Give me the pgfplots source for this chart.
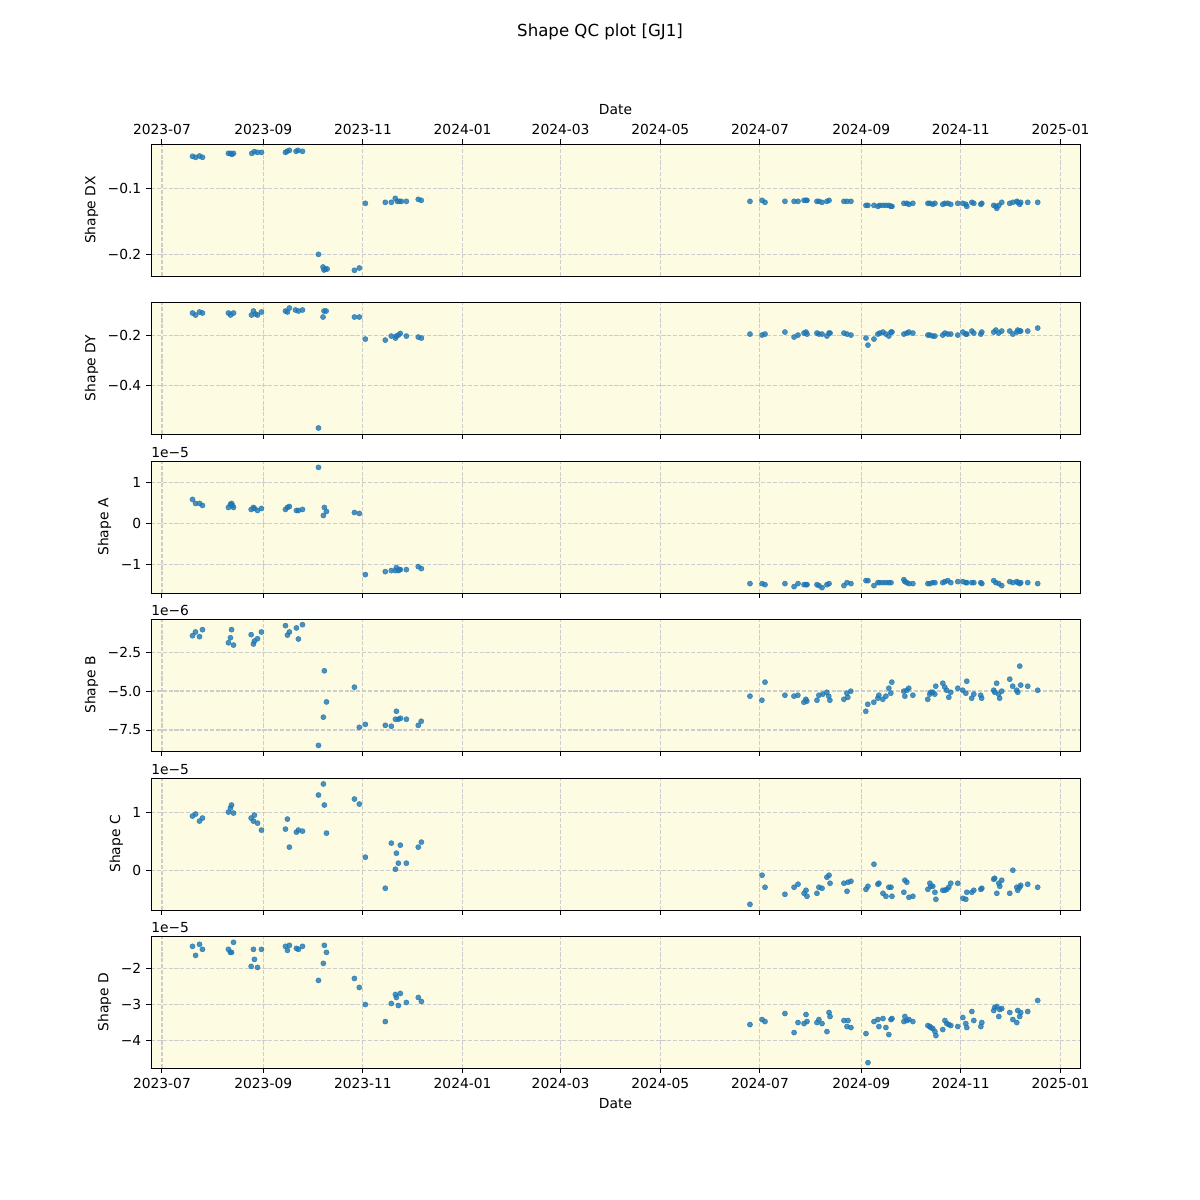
\documentclass[border=0pt]{standalone}
\usepackage{fontspec}
\setmainfont{DejaVu Sans}
\usepackage{pgfplots}
\pgfplotsset{compat=1.18}
\definecolor{mplblue}{HTML}{1F77B4}
\definecolor{bgy}{RGB}{253,251,226}
\definecolor{gridc}{RGB}{205,205,205}
\pgfplotsset{
  qc/.style={
    scale only axis, width=9.29in, height=1.32in,
    anchor=north west,
    xmin=-6.7, xmax=561.9,
    xtick={0,62,123,184,244,305,366,428,489,550},
    xticklabels={},
    axis background/.style={fill=bgy},
    grid=major,
    grid style={gridc, line width=0.8pt, dash pattern=on 2.96pt off 1.28pt},
    axis line style={line width=0.65pt},
    tick style={line width=0.65pt, black},
    major tick length=3.5pt,
    tick align=outside,
    xtick pos=left, ytick pos=left,
    clip mode=individual,
    every tick label/.append style={font=\fontsize{10}{12}\selectfont},
    label style={font=\fontsize{10}{12}\selectfont},
    xticklabel style={yshift=-0.5pt},
  },
  datelabels/.style={
    xticklabels={2023-07,2023-09,2023-11,2024-01,2024-03,2024-05,2024-07,2024-09,2024-11,2025-01},
  },
  pts/.style={only marks, mark=*, mark size=1.85pt,
    mark options={fill=mplblue, draw=mplblue, fill opacity=0.8, draw opacity=0.8}},
}
\newcommand{\offtext}[1]{\node[anchor=south west, inner sep=0pt, yshift=2.5pt, font=\fontsize{10}{12}\selectfont] at (rel axis cs:0,1) {#1};}
\begin{document}
\begin{tikzpicture}
\useasboundingbox[fill=white] (0,0) rectangle (12in,12in);
\node[font=\fontsize{12}{14}\selectfont] at (6in,11.68in) {Shape QC plot [GJ1]};

% Shape DX
\begin{axis}[qc, at={(1.51in,10.56in)}, datelabels, xtick pos=right, xticklabel pos=right, xlabel={Date},
  ymin=-0.2328, ymax=-0.0328, ytick={-0.2,-0.1}, yticklabels={−0.2,−0.1}, ylabel={Shape DX}]
\addplot[pts] coordinates {
(18.7,-0.0515)(20.6,-0.0530)(23.0,-0.0510)(24.8,-0.0530)
(40.7,-0.0470)(42.0,-0.0470)(42.8,-0.0485)(43.8,-0.0470)
(55.0,-0.0470)(56.6,-0.0444)(58.5,-0.0455)(60.9,-0.0455)
(75.6,-0.0455)(76.6,-0.0439)(78.0,-0.0424)(82.1,-0.0439)(83.3,-0.0424)(86.0,-0.0439)
(95.8,-0.2000)(98.6,-0.2192)(99.2,-0.2237)(99.9,-0.2222)(101.1,-0.2222)
(117.8,-0.2242)(120.8,-0.2207)(124.5,-0.1227)
(136.7,-0.1212)(140.4,-0.1212)(142.8,-0.1152)(144.1,-0.1197)(145.3,-0.1197)(146.5,-0.1197)(149.6,-0.1197)
(156.9,-0.1167)(158.7,-0.1182)
(359.9,-0.1197)(367.3,-0.1182)(369.1,-0.1212)(381.3,-0.1197)(386.9,-0.1197)(389.3,-0.1197)
(393.0,-0.1182)(394.2,-0.1182)(394.8,-0.1182)(400.9,-0.1197)(402.1,-0.1197)(404.0,-0.1212)
(407.0,-0.1197)(408.3,-0.1182)(417.4,-0.1197)(419.3,-0.1197)(421.7,-0.1197)
(430.9,-0.1258)(432.1,-0.1258)(435.8,-0.1258)(438.2,-0.1273)(439.4,-0.1258)(441.3,-0.1258)
(443.1,-0.1258)(444.9,-0.1258)(446.2,-0.1273)(446.8,-0.1273)
(454.1,-0.1227)(455.9,-0.1227)(457.2,-0.1242)(459.6,-0.1227)
(468.8,-0.1227)(470.0,-0.1227)(471.8,-0.1242)(473.1,-0.1227)(477.9,-0.1242)(479.2,-0.1227)
(481.0,-0.1227)(482.8,-0.1242)(487.1,-0.1227)(490.2,-0.1227)(492.0,-0.1242)(492.6,-0.1273)
(495.7,-0.1212)(496.9,-0.1227)(501.2,-0.1242)(501.8,-0.1227)
(509.1,-0.1258)(510.4,-0.1273)(511.0,-0.1303)(512.2,-0.1258)(514.0,-0.1212)
(518.9,-0.1227)(520.8,-0.1212)(523.2,-0.1197)(523.8,-0.1212)(525.0,-0.1242)(525.6,-0.1212)
(529.9,-0.1212)(536.0,-0.1212)
};
\end{axis}

% Shape DY
\begin{axis}[qc, at={(1.51in,8.98in)},
  ymin=-0.592, ymax=-0.0653, ytick={-0.4,-0.2}, yticklabels={−0.4,−0.2}, ylabel={Shape DY}]
\addplot[pts] coordinates {
(18.7,-0.1093)(20.6,-0.1173)(23.0,-0.1053)(24.8,-0.1093)
(40.7,-0.1093)(42.0,-0.1173)(43.8,-0.1093)
(54.8,-0.1173)(56.0,-0.1013)(57.3,-0.1133)(58.5,-0.1173)(60.9,-0.1053)
(75.6,-0.1013)(76.8,-0.1053)(78.0,-0.0893)(81.7,-0.0973)(83.5,-0.1013)(86.0,-0.0973)
(95.8,-0.568)(98.6,-0.1253)(99.2,-0.1013)(100.5,-0.1013)
(117.8,-0.1253)(120.8,-0.1253)(124.5,-0.2133)
(136.7,-0.2173)(140.4,-0.2013)(142.9,-0.2093)(143.5,-0.2013)(144.7,-0.1973)(145.9,-0.1907)(149.6,-0.2013)
(156.9,-0.2053)(158.8,-0.2093)
(359.9,-0.1933)(367.3,-0.1973)(369.1,-0.1933)(381.3,-0.1853)(386.9,-0.2053)(389.3,-0.1973)
(393.0,-0.1893)(394.2,-0.1853)(394.8,-0.1933)(400.9,-0.1893)(402.1,-0.1933)(404.0,-0.1933)
(407.0,-0.2013)(408.3,-0.1893)(408.9,-0.1893)(417.4,-0.1893)(419.3,-0.1933)(421.7,-0.1973)
(430.9,-0.2093)(432.1,-0.2373)(435.8,-0.2133)(438.2,-0.1933)(439.4,-0.1893)(441.3,-0.1853)
(443.1,-0.1933)(444.9,-0.2013)(446.2,-0.1853)(446.8,-0.1853)
(454.1,-0.1933)(455.9,-0.1893)(457.2,-0.1853)(459.6,-0.1893)
(468.8,-0.1973)(470.0,-0.1973)(471.8,-0.2013)(473.1,-0.2013)(477.9,-0.1973)(479.2,-0.1893)
(481.0,-0.1933)(482.8,-0.1933)(487.1,-0.1973)(490.2,-0.1853)(492.0,-0.1933)(492.6,-0.1933)
(495.7,-0.1813)(496.9,-0.1893)(501.2,-0.1933)(501.8,-0.1853)
(509.1,-0.1853)(510.4,-0.1773)(512.2,-0.1893)(514.0,-0.1813)
(518.9,-0.1813)(520.8,-0.1933)(523.2,-0.1853)(523.8,-0.1773)(525.0,-0.1813)(525.6,-0.1813)
(529.9,-0.1813)(536.0,-0.1693)
};
\end{axis}

% Shape A
\begin{axis}[qc, at={(1.51in,7.39in)},
  ymin=-1.698, ymax=1.527, ytick={-1,0,1}, yticklabels={−1,0,1}, ylabel={Shape A}]
\addplot[pts] coordinates {
(18.7,0.588)(20.6,0.490)(23.0,0.490)(24.8,0.441)
(40.7,0.392)(41.9,0.465)(42.6,0.490)(43.2,0.441)(43.8,0.392)
(54.6,0.343)(56.0,0.392)(56.6,0.367)(58.5,0.318)(60.9,0.367)
(75.6,0.343)(76.8,0.392)(78.0,0.416)(82.3,0.318)(83.5,0.318)(86.0,0.343)
(95.8,1.371)(98.8,0.196)(99.4,0.392)(100.7,0.294)
(117.8,0.269)(120.8,0.245)(124.5,-1.249)
(136.7,-1.176)(140.4,-1.151)(142.9,-1.151)(143.5,-1.078)(144.7,-1.151)(145.3,-1.127)(145.9,-1.127)(149.6,-1.127)
(156.9,-1.053)(158.8,-1.102)
(359.9,-1.469)(367.3,-1.469)(369.1,-1.494)(381.3,-1.469)(386.9,-1.543)(389.3,-1.469)
(393.0,-1.494)(394.2,-1.494)(394.8,-1.494)(400.9,-1.494)(402.1,-1.518)(404.0,-1.567)
(407.0,-1.494)(408.3,-1.469)(417.4,-1.518)(419.3,-1.445)(421.7,-1.469)
(430.9,-1.396)(432.1,-1.396)(435.8,-1.518)(438.2,-1.445)(439.4,-1.445)(441.3,-1.445)
(443.1,-1.445)(444.9,-1.445)(446.2,-1.445)
(454.1,-1.371)(454.7,-1.420)(455.9,-1.445)(457.2,-1.469)(459.6,-1.469)
(468.8,-1.469)(470.0,-1.469)(471.8,-1.445)(473.1,-1.445)(477.9,-1.445)(479.2,-1.420)
(481.0,-1.396)(482.8,-1.445)(487.1,-1.420)(490.2,-1.420)(492.0,-1.445)(492.6,-1.445)
(495.7,-1.445)(496.9,-1.445)(501.2,-1.445)(501.8,-1.469)
(509.1,-1.396)(510.4,-1.445)(512.2,-1.469)(514.0,-1.518)
(518.9,-1.420)(520.8,-1.445)(523.2,-1.420)(523.8,-1.445)(525.0,-1.469)(525.6,-1.445)
(529.9,-1.445)(536.0,-1.469)
};
\offtext{1e−5}
\end{axis}

% Shape B
\begin{axis}[qc, at={(1.51in,5.81in)},
  ymin=-8.85, ymax=-0.375, ytick={-7.5,-5,-2.5}, yticklabels={−7.5,−5.0,−2.5}, ylabel={Shape B}]
\addplot[pts] coordinates {
(18.7,-1.45)(20.5,-1.21)(23.0,-1.51)(24.8,-1.06)
(40.7,-1.90)(41.9,-1.58)(42.6,-1.06)(43.8,-2.05)
(54.6,-1.38)(56.0,-1.98)(56.6,-1.79)(58.5,-1.64)(60.9,-1.21)
(75.6,-0.80)(76.8,-1.41)(78.0,-1.21)(82.3,-0.95)(83.5,-1.66)(86.0,-0.74)
(95.8,-8.49)(98.8,-6.68)(99.4,-3.70)(100.7,-5.70)
(117.8,-4.75)(120.8,-7.33)(124.5,-7.14)
(136.7,-7.20)(140.4,-7.26)(142.9,-6.81)(143.5,-6.30)(144.7,-6.81)(146.0,-6.75)(149.6,-6.81)
(156.9,-7.20)(158.7,-6.94)
(359.9,-5.33)(367.2,-5.59)(369.1,-4.43)(381.3,-5.27)(386.8,-5.33)(389.2,-5.27)(392.9,-5.72)
(394.1,-5.53)(394.7,-5.65)(400.9,-5.59)(402.1,-5.27)(404.5,-5.20)(406.9,-5.08)(408.1,-5.33)
(408.8,-5.59)(417.4,-5.53)(419.2,-5.14)(419.8,-5.40)(421.6,-5.01)(430.8,-6.30)(432.0,-5.85)
(435.7,-5.72)(438.2,-5.46)(438.8,-5.27)(441.2,-5.53)(443.1,-5.33)(444.9,-4.82)(446.1,-5.14)
(446.7,-4.43)(454.0,-5.01)(454.7,-5.33)(455.9,-4.95)(457.1,-4.82)(459.6,-5.27)(468.7,-5.53)
(469.9,-5.20)(470.6,-5.08)(471.8,-5.08)(473.0,-5.20)(473.6,-4.69)(477.9,-4.50)(479.1,-4.75)
(480.3,-4.95)(481.6,-5.40)(482.8,-5.08)(487.1,-4.82)(490.1,-4.95)(492.0,-5.14)(492.6,-4.37)
(495.6,-5.46)(496.9,-5.20)(501.1,-5.27)(501.7,-5.46)(509.1,-4.95)(509.7,-5.08)(510.9,-4.50)
(512.1,-5.20)(512.7,-5.46)(514.0,-5.01)(518.9,-4.24)(520.7,-4.69)(523.1,-4.95)(523.8,-5.08)
(525.0,-3.40)(525.6,-4.62)(529.9,-4.69)(536.0,-4.95)
};
\offtext{1e−6}
\end{axis}

% Shape C
\begin{axis}[qc, at={(1.51in,4.22in)},
  ymin=-0.684, ymax=1.586, ytick={0,1}, yticklabels={0,1}, ylabel={Shape C}]
\addplot[pts] coordinates {
(18.7,0.931)(20.6,0.966)(23.0,0.845)(24.8,0.897)
(40.7,1.000)(41.9,1.069)(42.6,1.121)(43.8,0.983)
(54.6,0.897)(56.0,0.845)(56.6,0.948)(58.5,0.810)(60.9,0.690)
(75.6,0.707)(76.8,0.879)(78.0,0.397)(82.3,0.655)(83.5,0.690)(86.0,0.672)
(95.8,1.293)(98.8,1.483)(99.4,1.121)(100.7,0.638)
(117.8,1.224)(120.8,1.138)(124.5,0.224)
(136.7,-0.310)(140.4,0.466)(142.9,0.017)(143.5,0.293)(144.7,0.121)(145.9,0.431)(149.6,0.121)
(156.9,0.397)(158.8,0.483)
(359.9,-0.586)(367.3,-0.086)(369.1,-0.293)(381.3,-0.414)(386.9,-0.293)(389.3,-0.241)
(393.0,-0.397)(394.2,-0.345)(394.8,-0.448)(400.9,-0.397)(402.1,-0.293)(404.0,-0.310)
(407.0,-0.121)(408.3,-0.086)(408.9,-0.224)(417.4,-0.224)(419.3,-0.362)(419.9,-0.207)
(421.7,-0.190)(430.9,-0.328)(432.1,-0.276)(435.8,0.103)(438.2,-0.241)(438.8,-0.224)
(441.3,-0.397)(443.1,-0.448)(444.9,-0.293)(446.2,-0.293)(446.8,-0.448)
(454.1,-0.379)(454.7,-0.172)(455.9,-0.207)(457.2,-0.466)(459.6,-0.448)
(468.8,-0.328)(470.0,-0.224)(470.6,-0.276)(471.8,-0.276)(473.1,-0.379)(473.7,-0.500)
(477.9,-0.345)(479.2,-0.345)(480.4,-0.328)(481.6,-0.293)(482.8,-0.224)(487.1,-0.224)
(490.2,-0.483)(492.0,-0.500)(492.6,-0.379)(495.7,-0.379)(496.9,-0.345)(501.2,-0.328)
(501.8,-0.310)(509.1,-0.155)(509.7,-0.138)(511.0,-0.397)(512.2,-0.224)(512.8,-0.276)
(514.0,-0.172)(518.9,-0.397)(520.8,0.000)(523.2,-0.293)(523.8,-0.345)(525.0,-0.293)
(525.6,-0.259)(529.9,-0.241)(536.0,-0.293)
};
\offtext{1e−5}
\end{axis}

% Shape D
\begin{axis}[qc, at={(1.51in,2.64in)}, datelabels, xlabel={Date},
  ymin=-4.759, ymax=-1.102, ytick={-4,-3,-2}, yticklabels={−4,−3,−2}, ylabel={Shape D}]
\addplot[pts] coordinates {
(18.7,-1.389)(20.6,-1.639)(23.0,-1.333)(24.8,-1.472)
(40.7,-1.472)(41.9,-1.556)(42.6,-1.556)(43.8,-1.278)
(54.6,-1.944)(56.0,-1.472)(56.6,-1.750)(58.5,-1.972)(60.9,-1.472)
(75.6,-1.389)(76.8,-1.500)(78.0,-1.361)(82.3,-1.444)(83.5,-1.472)(86.0,-1.389)
(95.8,-2.333)(98.8,-1.861)(99.4,-1.361)(100.7,-1.556)
(117.8,-2.278)(120.8,-2.528)(124.5,-3.000)
(136.7,-3.472)(140.4,-2.972)(142.9,-2.722)(143.5,-2.806)(144.7,-3.028)(145.9,-2.694)(149.6,-2.944)
(156.9,-2.806)(158.8,-2.917)
(359.9,-3.556)(367.3,-3.417)(369.1,-3.472)(381.3,-3.250)(386.9,-3.778)(389.3,-3.500)
(393.0,-3.528)(394.2,-3.278)(394.8,-3.472)(400.9,-3.500)(402.1,-3.417)(404.0,-3.528)
(407.0,-3.750)(408.3,-3.222)(408.9,-3.333)(417.4,-3.444)(419.3,-3.611)(419.9,-3.444)
(421.7,-3.639)(430.9,-3.806)(432.1,-4.611)(435.8,-3.472)(438.2,-3.417)(438.8,-3.611)
(441.3,-3.389)(443.1,-3.639)(444.9,-3.833)(446.2,-3.417)(446.8,-3.389)
(454.1,-3.472)(454.7,-3.333)(455.9,-3.444)(457.2,-3.417)(459.6,-3.472)
(468.8,-3.583)(470.0,-3.611)(470.6,-3.639)(471.8,-3.667)(473.1,-3.750)(473.7,-3.861)
(477.9,-3.694)(479.2,-3.444)(480.4,-3.528)(481.6,-3.556)(482.8,-3.583)(487.1,-3.611)
(490.2,-3.361)(492.0,-3.528)(492.6,-3.639)(495.7,-3.194)(496.9,-3.444)(501.2,-3.611)
(501.8,-3.500)(509.1,-3.167)(509.7,-3.083)(511.0,-3.056)(512.2,-3.333)(512.8,-3.139)
(514.0,-3.111)(518.9,-3.222)(520.8,-3.417)(523.2,-3.500)(523.8,-3.167)(525.0,-3.333)
(525.6,-3.222)(529.9,-3.194)(536.0,-2.889)
};
\offtext{1e−5}
\end{axis}
\end{tikzpicture}
\end{document}
